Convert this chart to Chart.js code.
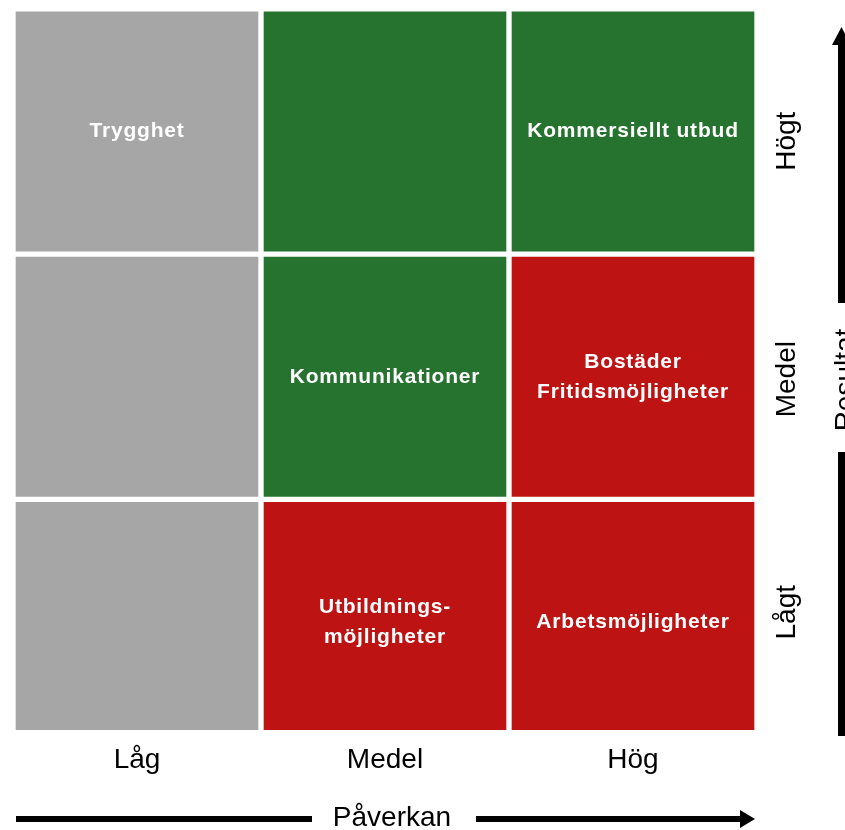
<!DOCTYPE html>
<html lang="sv">
<head>
<meta charset="utf-8">
<title>Påverkan och resultat</title>
<script src="https://cdn.jsdelivr.net/npm/chart.js"></script>
<style>
	body { margin: 0; background: #fff; }
	#ruta { width: 845px; height: 830px; }
</style>
</head>
<body>
<div id="ruta"><canvas id="matris" width="845" height="830"></canvas></div>
<script>
// Kolumner (påverkan) och rader (resultat)
var kolumner = ['Låg', 'Medel', 'Hög'];
var rader = ['Lågt', 'Medel', 'Högt'];
// var raderna står (tick-värden för etiketterna till höger)
var radEtikettPos = [0.54, 1.49, 2.46];

// Rutornas intervall per rad
var lagt = [[0, 1], [0, 1], [0, 1]];
var medel = [[1, 2], [1, 2], [1, 2]];
var hogt = [[2, 3], [2, 3], [2, 3]];

// Texter i rutorna
var texterLagt = ['', 'Utbildnings-\nmöjligheter', 'Arbetsmöjligheter'];
var texterMedel = ['', 'Kommunikationer', 'Bostäder\nFritidsmöjligheter'];
var texterHogt = ['Trygghet', '', 'Kommersiellt utbud'];

var GRA = '#a6a6a6';
var GRON = '#26732f';
var ROD = '#bd1313';
var fargLagt = [GRA, ROD, ROD];
var fargMedel = [GRA, GRON, ROD];
var fargHogt = [GRA, GRON, GRON];

var ctx;
var chart;

Chart.defaults.font.family = "'Liberation Sans', Arial, sans-serif";
Chart.defaults.color = '#000';

function rad(namn, data, farger, texter) {
	return {
		label: namn,
		data: data,
		texter: texter,
		backgroundColor: farger,
		borderColor: '#ffffff',
		borderWidth: 3,
		borderSkipped: false,
		grouped: false,
		barPercentage: 1,
		categoryPercentage: 1,
		clip: 0
	};
}

// Vita texter mitt i rutorna
var rutTexter = {
	id: 'rutTexter',
	afterDatasetsDraw: function(chart) {
		var c = chart.ctx;
		c.save();
		c.fillStyle = '#ffffff';
		c.font = "bold 21px 'Liberation Sans', Arial, sans-serif";
		c.letterSpacing = '0.8px';
		c.textAlign = 'center';
		c.textBaseline = 'middle';
		chart.data.datasets.forEach(function(ds, i) {
			var meta = chart.getDatasetMeta(i);
			meta.data.forEach(function(el, j) {
				var t = ds.texter[j];
				if (!t) return;
				var rader = t.split('\n');
				var mitt = (el.y + el.base) / 2;
				var start = mitt - (rader.length - 1) * 30 / 2;
				rader.forEach(function(r, k) {
					c.fillText(r, el.x, start + k * 30);
				});
			});
		});
		c.restore();
	}
};

// Pilar och axeltitlar
var pilar = {
	id: 'pilar',
	afterDraw: function(chart) {
		var c = chart.ctx;
		c.save();
		c.fillStyle = '#000';

		// Påverkan, vågrät pil
		c.fillRect(16, 816, 296, 6);
		c.fillRect(476, 816, 266, 6);
		c.beginPath();
		c.moveTo(740, 810);
		c.lineTo(755, 819);
		c.lineTo(740, 828);
		c.closePath();
		c.fill();
		c.font = "28px 'Liberation Sans', Arial, sans-serif";
		c.textAlign = 'center';
		c.textBaseline = 'middle';
		c.fillText('Påverkan', 392, 818);

		// Resultat, lodrät pil
		c.fillRect(838, 45, 7, 258);
		c.fillRect(838, 452, 7, 284);
		c.beginPath();
		c.moveTo(832, 45);
		c.lineTo(841.5, 27);
		c.lineTo(851, 45);
		c.closePath();
		c.fill();
		c.translate(846, 380);
		c.rotate(-Math.PI / 2);
		c.fillText('Resultat', 0, 0);
		c.restore();
	}
};

$ready();

function $ready() {
	ctx = document.getElementById('matris').getContext('2d');
	chart = new Chart(ctx, {
		type: 'bar',
		data: {
			labels: kolumner,
			datasets: [
				rad(rader[0], lagt, fargLagt, texterLagt),
				rad(rader[1], medel, fargMedel, texterMedel),
				rad(rader[2], hogt, fargHogt, texterHogt)
			]
		},
		options: {
			responsive: false,
			animation: false,
			layout: { padding: { top: 7, left: 13, right: 0, bottom: 0 } },
			plugins: {
				legend: { display: false },
				tooltip: { enabled: false },
				title: { display: false }
			},
			scales: {
				x: {
					type: 'category',
					grid: { display: false, drawTicks: false },
					border: { display: false },
					ticks: { font: { size: 28 }, color: '#000', padding: 13, maxRotation: 0 },
					afterFit: function(s) { s.height = 100; }
				},
				y: {
					type: 'linear',
					position: 'right',
					min: 0.06,
					max: 3,
					grid: { display: false, drawTicks: false },
					border: { display: false },
					afterBuildTicks: function(s) {
						s.ticks = radEtikettPos.map(function(v) { return { value: v }; });
					},
					ticks: {
						font: { size: 28 },
						color: '#000',
						minRotation: 90,
						maxRotation: 90,
						crossAlign: 'center',
						padding: -8,
						callback: function(v) {
							return rader[radEtikettPos.indexOf(v)];
						}
					},
					afterFit: function(s) { s.width = 88; }
				}
			}
		},
		plugins: [rutTexter, pilar]
	});
}
</script>
</body>
</html>
